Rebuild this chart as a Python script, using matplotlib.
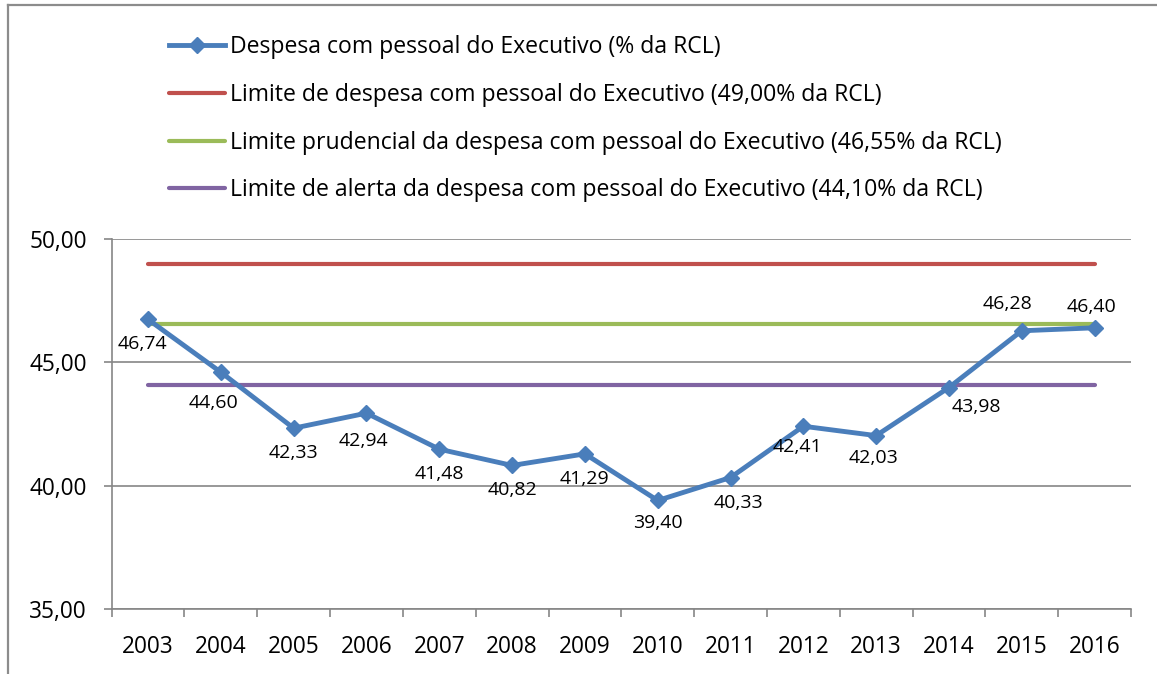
import numpy as np
import matplotlib
matplotlib.use("Agg")
import matplotlib.pyplot as plt
from matplotlib.lines import Line2D

# data
anos = ["2003", "2004", "2005", "2006", "2007", "2008", "2009",
        "2010", "2011", "2012", "2013", "2014", "2015", "2016"]
despesa = [46.74, 44.60, 42.33, 42.94, 41.48, 40.82, 41.29,
           39.40, 40.33, 42.41, 42.03, 43.98, 46.28, 46.40]
limite = 49.00
limite_prudencial = 46.55
limite_alerta = 44.10

nomes = ["Despesa com pessoal do Executivo (% da RCL)",
         "Limite de despesa com pessoal do Executivo (49,00% da RCL)",
         "Limite prudencial da despesa com pessoal do Executivo (46,55% da RCL)",
         "Limite de alerta da despesa com pessoal do Executivo (44,10% da RCL)"]

# label offsets in points (dx, dy), picked by eye
offsets = [(-4, -18), (-5, -22), (0, -18), (-2, -20), (0, -18), (0, -18), (0, -18),
           (0, -16), (6, -18), (-4, -15), (-2, -16), (20, -14), (-10, 19), (-2, 15)]

plt.rcParams['font.family'] = ['Open Sans', 'DejaVu Sans']

azul = "#4A7EBB"
vermelho = "#C0504D"
verde = "#9BBB59"
roxo = "#8064A2"
cinza = "#868686"

fig = plt.figure(figsize=(11.57, 6.74), dpi=100)
ax = fig.add_axes([0.0965, 0.0964, 0.9775 - 0.0965, 0.6454 - 0.0964])

x = np.arange(len(anos))
n = len(anos)
l1, = ax.plot(x, [limite] * n, color=vermelho, lw=3, solid_capstyle='round', zorder=3)
l2, = ax.plot(x, [limite_prudencial] * n, color=verde, lw=3, solid_capstyle='round', zorder=3)
l3, = ax.plot(x, [limite_alerta] * n, color=roxo, lw=3, solid_capstyle='round', zorder=3)
l0, = ax.plot(x, despesa, color=azul, lw=3.5, marker='D', markersize=8, zorder=4)

for xi, v, (dx, dy) in zip(x, despesa, offsets):
    ax.annotate(f"{v:.2f}".replace(".", ","), (xi, v), xytext=(dx, dy),
                textcoords='offset points', ha='center', va='center',
                fontsize=14, color='black', zorder=5)

ax.set_xlim(-0.5, n - 0.5)
ax.set_ylim(35, 50)
ax.set_yticks([35, 40, 45, 50])
ax.set_yticklabels(["35,00", "40,00", "45,00", "50,00"])
ax.set_xticks(np.arange(-0.5, n, 1))
ax.set_xticklabels([])
ax.set_xticks(x, minor=True)
ax.set_xticklabels(anos, minor=True)
ax.tick_params(axis='x', which='major', length=6, width=1.2, color=cinza, direction='out')
ax.tick_params(axis='x', which='minor', length=0, pad=19, labelsize=16.3)
ax.tick_params(axis='y', length=6, width=1.2, color=cinza, pad=12, labelsize=16.3)
ax.grid(axis='y', color=cinza, lw=1.2)
ax.set_axisbelow(True)
for s in ['top', 'right']:
    ax.spines[s].set_visible(False)
for s in ['left', 'bottom']:
    ax.spines[s].set_color(cinza)
    ax.spines[s].set_linewidth(1.2)

fig.legend([l0, l1, l2, l3], nomes, loc='upper left',
           bbox_to_anchor=(160 / 1157, 1 - 26 / 674), frameon=False,
           fontsize=16.6, handlelength=2.4, handletextpad=0.25,
           labelspacing=1.03, borderaxespad=0)

# outer frame (top and left edges only)
fig.add_artist(Line2D([8 / 1157, 1], [1 - 4.5 / 674] * 2, color="#8C8C8C", lw=1.6))
fig.add_artist(Line2D([8 / 1157] * 2, [0, 1 - 4.5 / 674], color="#8C8C8C", lw=1.6))

fig.savefig("out.png", dpi=100)
